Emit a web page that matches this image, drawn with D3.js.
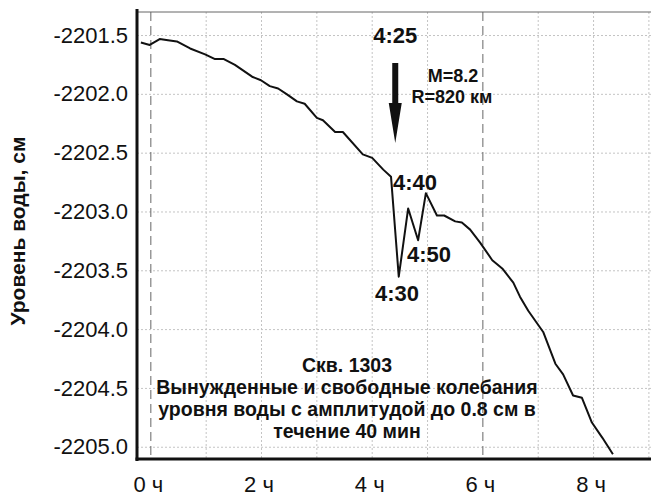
<!DOCTYPE html>
<html>
<head>
<meta charset="utf-8">
<script src="https://d3js.org/d3.v7.min.js"></script>
<style>
  body { margin: 0; background: #fff; }
  text { font-family: "Liberation Sans", Arial, sans-serif; }
</style>
</head>
<body>
<div id="chart"></div>
<script>
var width = 651,
    height = 497,
    plotLeft = 137,
    plotRight = 650,
    plotTop = 12,
    plotBottom = 459;

// time in hours, water level in cm
var hours = [-0.18, -0.02, 0.16, 0.31, 0.47, 0.71, 0.98, 1.16, 1.32, 1.52, 1.83, 1.99,
    2.15, 2.30, 2.46, 2.64, 2.78, 3.00, 3.11, 3.33, 3.47, 3.83, 4.00, 4.20, 4.34,
    4.48, 4.65, 4.83, 4.97, 5.17, 5.30, 5.50, 5.62, 5.77, 5.95, 6.17, 6.35, 6.55,
    6.67, 6.82, 7.09, 7.31, 7.45, 7.63, 7.79, 7.97, 8.16, 8.35];
var level = [-2201.56, -2201.58, -2201.53, -2201.54, -2201.55, -2201.61, -2201.66, -2201.70,
    -2201.70, -2201.75, -2201.85, -2201.88, -2201.93, -2201.95, -2202.00, -2202.06,
    -2202.08, -2202.20, -2202.22, -2202.32, -2202.32, -2202.51, -2202.54, -2202.64,
    -2202.70, -2203.55, -2202.97, -2203.24, -2202.84, -2203.03, -2203.03, -2203.08,
    -2203.09, -2203.15, -2203.26, -2203.41, -2203.48, -2203.60, -2203.72, -2203.84,
    -2204.02, -2204.29, -2204.38, -2204.56, -2204.58, -2204.79, -2204.92, -2205.06];

var yTicks = [-2201.5, -2202.0, -2202.5, -2203.0, -2203.5, -2204.0, -2204.5, -2205.0];
var xGrid = [1, 2, 3, 4, 5, 7, 8, 9];
var xDashed = [0, 6];
var xLabels = [0, 2, 4, 6, 8];

var quakeTime = 4 + 25 / 60;
var peakLabels = [
    {text: "4:40", x: 415, y: 190},
    {text: "4:50", x: 429, y: 262},
    {text: "4:30", x: 397, y: 301}
];
var noteLines = ["Скв. 1303",
    "Вынужденные и свободные колебания",
    "уровня воды с амплитудой до 0.8 см в",
    "течение 40 мин"];

var x = d3.scaleLinear().domain([-0.25, 9.02]).range([plotLeft, plotRight]);
var y = d3.scaleLinear().domain([-2205.1, -2201.3]).range([plotBottom, plotTop]);

var svg = d3.select("#chart").append("svg")
    .attr("width", width)
    .attr("height", height);

// grid
svg.append("g").selectAll("line")
    .data(yTicks).enter().append("line")
    .attr("x1", plotLeft).attr("x2", width)
    .attr("y1", d => y(d)).attr("y2", d => y(d))
    .attr("stroke", "#c4c4c4")
    .attr("stroke-dasharray", "2,2");

svg.append("g").selectAll("line")
    .data(xGrid).enter().append("line")
    .attr("x1", d => x(d)).attr("x2", d => x(d))
    .attr("y1", plotTop).attr("y2", plotBottom)
    .attr("stroke", "#c4c4c4")
    .attr("stroke-dasharray", "2,2");

svg.append("g").selectAll("line")
    .data(xDashed).enter().append("line")
    .attr("x1", d => x(d)).attr("x2", d => x(d))
    .attr("y1", plotTop).attr("y2", plotBottom)
    .attr("stroke", "#666")
    .attr("stroke-dasharray", "9,5");

// frame
svg.append("line")
    .attr("x1", plotLeft).attr("x2", width)
    .attr("y1", plotTop).attr("y2", plotTop)
    .attr("stroke", "#666")
    .attr("stroke-width", 1);

// y axis (plain hyphen as minus, like the original)
var yAxis = d3.axisLeft(y).tickValues(yTicks).tickSize(0).tickPadding(9)
    .tickFormat(d => d.toFixed(1));
var yAxisG = svg.append("g")
    .attr("transform", `translate(${plotLeft},0)`)
    .call(yAxis);
yAxisG.select(".domain").remove();
yAxisG.selectAll("text")
    .style("font-size", "22px")
    .attr("fill", "#111")
    .attr("dy", "0.3em");

// x axis
var xAxis = d3.axisBottom(x).tickValues(xLabels).tickSize(0).tickPadding(17)
    .tickFormat(d => d + " ч");
var xAxisG = svg.append("g")
    .attr("transform", `translate(0,${plotBottom})`)
    .call(xAxis);
xAxisG.select(".domain").remove();
xAxisG.selectAll("text")
    .style("font-size", "22px")
    .attr("fill", "#111")
    .attr("dx", -3);

svg.append("line")
    .attr("x1", plotLeft).attr("x2", plotLeft)
    .attr("y1", plotTop - 3).attr("y2", plotBottom + 2)
    .attr("stroke", "#111")
    .attr("stroke-width", 3);
svg.append("line")
    .attr("x1", plotLeft - 1.5).attr("x2", width)
    .attr("y1", plotBottom).attr("y2", plotBottom)
    .attr("stroke", "#111")
    .attr("stroke-width", 3);

// y label
svg.append("text")
    .attr("transform", "translate(25,231) rotate(-90)")
    .style("text-anchor", "middle")
    .style("font-size", "21px")
    .style("font-weight", "bold")
    .attr("fill", "#111")
    .text("Уровень воды, см");

// data line
var line = d3.line()
    .x(d => x(d[0]))
    .y(d => y(d[1]));
svg.append("path")
    .datum(d3.zip(hours, level))
    .attr("d", line)
    .attr("fill", "none")
    .attr("stroke", "#111")
    .attr("stroke-width", 2)
    .attr("stroke-linejoin", "round");

// earthquake arrow
var ax = x(quakeTime);
svg.append("path")
    .attr("d", `M${ax - 3},63 L${ax + 3},63 L${ax + 3},103 L${ax + 6.5},103 L${ax},143 L${ax - 6.5},103 L${ax - 3},103 Z`)
    .attr("fill", "#111");

svg.append("text")
    .attr("x", ax).attr("y", 43)
    .style("text-anchor", "middle")
    .style("font-size", "22px")
    .style("font-weight", "bold")
    .attr("fill", "#111")
    .text("4:25");

svg.append("text")
    .attr("x", 453).attr("y", 82)
    .style("text-anchor", "middle")
    .style("font-size", "18px")
    .style("font-weight", "bold")
    .attr("fill", "#111")
    .text("M=8.2");
svg.append("text")
    .attr("x", 452).attr("y", 103)
    .style("text-anchor", "middle")
    .style("font-size", "18px")
    .style("font-weight", "bold")
    .attr("fill", "#111")
    .text("R=820 км");

svg.append("g").selectAll("text")
    .data(peakLabels).enter().append("text")
    .attr("x", d => d.x).attr("y", d => d.y)
    .style("text-anchor", "middle")
    .style("font-size", "22px")
    .style("font-weight", "bold")
    .attr("fill", "#111")
    .text(d => d.text);

// note
svg.append("g").selectAll("text")
    .data(noteLines).enter().append("text")
    .attr("x", 347)
    .attr("y", (d, i) => 372 + i * 22)
    .style("text-anchor", "middle")
    .style("font-size", "19.5px")
    .style("font-weight", "bold")
    .attr("fill", "#111")
    .text(d => d);
</script>
</body>
</html>
